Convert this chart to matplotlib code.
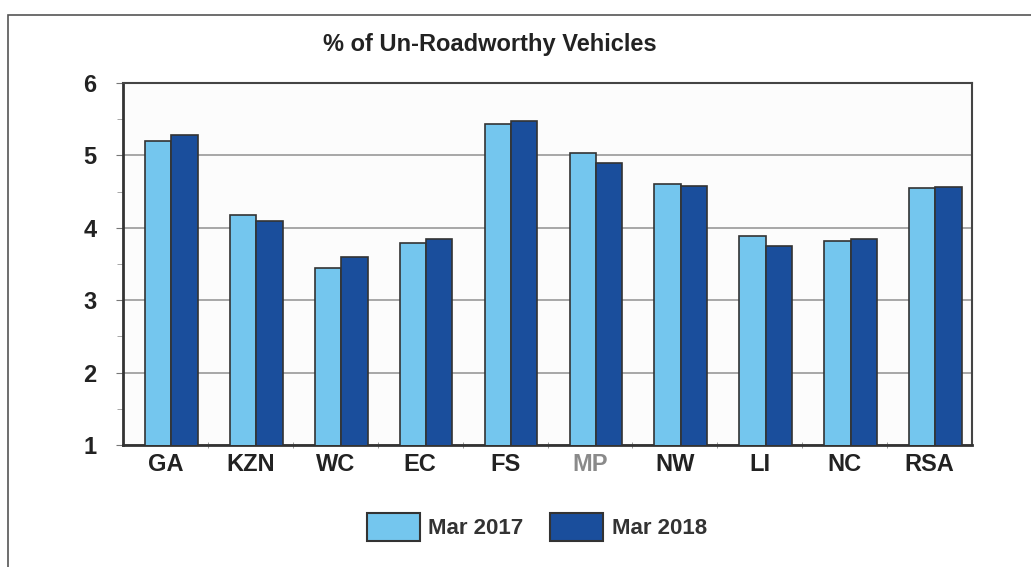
import numpy as np
import matplotlib.pyplot as plt
from matplotlib.patches import Rectangle, Patch

plt.rcParams['font.family'] = ['Liberation Sans', 'DejaVu Sans']

# data
regions = ['GA', 'KZN', 'WC', 'EC', 'FS', 'MP', 'NW', 'LI', 'NC', 'RSA']
mar_2017 = [5.20, 4.17, 3.44, 3.79, 5.44, 5.03, 4.60, 3.89, 3.82, 4.55]
mar_2018 = [5.28, 4.10, 3.59, 3.84, 5.48, 4.90, 4.58, 3.75, 3.85, 4.57]

light = '#74C6EE'
dark = '#1A4E9C'
edge = '#333333'

fig = plt.figure(figsize=(10.31, 5.67), dpi=100)
fig.patch.set_facecolor('white')

# scanned frame around the chart
fig.add_artist(Rectangle((8 / 1031, -0.05), 1.1, (567 - 15) / 567 + 0.05,
                         transform=fig.transFigure, fill=False,
                         edgecolor='#555555', linewidth=1.2))

ax = fig.add_axes([123 / 1031, 122 / 567, 849 / 1031, 362 / 567])
ax.set_facecolor('#FCFCFC')

x = np.arange(len(regions))
w = 0.31
ax.bar(x - w / 2 + 0.07, mar_2017, w, bottom=0, color=light, edgecolor=edge,
       linewidth=1.2, zorder=3)
ax.bar(x + w / 2 + 0.07, mar_2018, w, bottom=0, color=dark, edgecolor=edge,
       linewidth=1.2, zorder=3)

ax.set_ylim(1, 6)
ax.set_xlim(-0.5, len(regions) - 0.5)
ax.set_yticks([1, 2, 3, 4, 5, 6])
ax.set_yticks(np.arange(1, 6.01, 0.5), minor=True)
ax.yaxis.grid(True, color='#999999', linewidth=1.2, zorder=0)
ax.tick_params(axis='y', which='major', labelsize=17, length=5, color='#777777', pad=14)
ax.tick_params(axis='y', which='minor', length=4, color='#999999')
for lab in ax.get_yticklabels():
    lab.set_fontweight('bold')
    lab.set_color('#222222')

ax.set_xticks(x)
ax.set_xticklabels(regions, fontsize=17, fontweight='bold', color='#222222')
ax.set_xticks(np.arange(0.5, len(regions) - 0.5, 1), minor=True)
ax.tick_params(axis='x', which='major', length=0, pad=6)
ax.tick_params(axis='x', which='minor', length=5, color='#888888', direction='inout')
ax.get_xticklabels()[5].set_color('#8A8A8A')

for s in ['left', 'bottom']:
    ax.spines[s].set_color('#333333')
    ax.spines[s].set_linewidth(2)
for s in ['top', 'right']:
    ax.spines[s].set_color('#444444')
    ax.spines[s].set_linewidth(1.5)

fig.text(490 / 1031, 1 - 45 / 567, '% of Un-Roadworthy Vehicles', ha='center',
         va='center', fontsize=17, fontweight='bold', color='#222222',
         family=['Liberation Sans Narrow', 'Liberation Sans'])

handles = [Patch(facecolor=light, edgecolor=edge, linewidth=1.5, label='Mar 2017'),
           Patch(facecolor=dark, edgecolor=edge, linewidth=1.5, label='Mar 2018')]
leg = fig.legend(handles=handles, loc='center', bbox_to_anchor=(537 / 1031, 1 - 527 / 567),
                 ncol=2, frameon=False, handlelength=2.35, handleheight=1.5,
                 columnspacing=1.2, handletextpad=0.4, borderaxespad=0,
                 prop={'size': 16, 'weight': 'bold'})
for t in leg.get_texts():
    t.set_color('#333333')

fig.savefig('out.png', dpi=100, facecolor='white')
